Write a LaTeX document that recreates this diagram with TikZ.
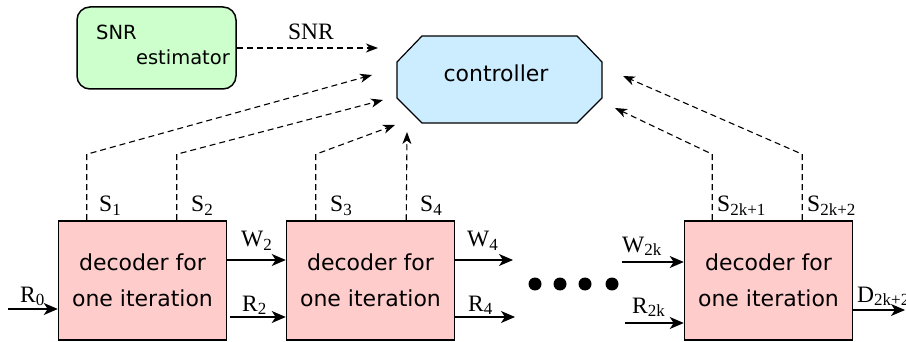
\documentclass[tikz,border=0pt]{standalone}
\usepackage{fontspec}
\setmainfont{Liberation Serif}
\newfontfamily\sansf{DejaVu Sans}
\usetikzlibrary{arrows.meta,calc}
\newcommand\lsub[1]{\raisebox{-3.5pt}{\fontsize{17}{17}\selectfont #1}}
\definecolor{gfill}{RGB}{204,255,204}
\definecolor{bfill}{RGB}{204,236,255}
\definecolor{pfill}{RGB}{255,204,204}
\begin{document}
\begin{tikzpicture}[x=1pt,y=-1pt,
  dec/.style={draw, line width=1.5pt, fill=pfill, minimum width=168pt, minimum height=119pt,
    inner sep=0pt, align=center, font=\sansf\fontsize{22}{36}\selectfont},
  lbl/.style={inner sep=0pt, anchor=base west, font=\fontsize{23.5}{24}\selectfont},
  stxt/.style={inner sep=0pt, font=\sansf\fontsize{22}{26}\selectfont},
  gtxt/.style={inner sep=0pt, font=\sansf\fontsize{19.5}{22}\selectfont},
  sig/.style={line width=1.3pt, -{Stealth[length=14pt,width=12pt,inset=4pt]}},
  ctl/.style={line width=1.1pt, dash pattern=on 6pt off 4pt, -{Stealth[length=12pt,width=9pt,inset=3.5pt]}}]
\useasboundingbox (0,0) rectangle (906,342);

% decoder boxes
\node[dec] (d1) at (142.5,280.5) {decoder for\\one iteration};
\node[dec] (d2) at (370.5,280.5) {decoder for\\one iteration};
\node[dec] (d3) at (768.5,280.5) {decoder for\\one iteration};

% SNR estimator
\node[draw, rounded corners=13pt, fill=gfill, line width=1.5pt, minimum width=159pt, minimum height=82pt] (est) at (156.5,48) {};
\node[gtxt, anchor=base west] (estA) at (96,40) {SNR};
\node[gtxt, anchor=base east] (estB) at (230,65) {estimator};

% controller
\draw[fill=bfill, line width=1.2pt] (422,36) -- (577,36) -- (602,62) -- (602,98) -- (577,123) -- (422,123) -- (397,98) -- (397,62) -- cycle;
\node[stxt, anchor=base] (ctrl) at (496,82) {controller};

% arrow end coordinates near controller
\coordinate (csnr) at (378,48);
\coordinate (c1) at (372,75);
\coordinate (c2) at (383,100);
\coordinate (c3) at (395,125);
\coordinate (c4) at (407,132);
\coordinate (c5) at (615,108);
\coordinate (c6) at (623,76);

% dashed control lines
\draw[ctl] (est.east) -- (csnr);
\node[lbl, anchor=base] (lsnr) at (311,40) {SNR};
\draw[ctl] ($(d1.north west)+(29,0)$) -- +(0,-66) -- (c1);
\draw[ctl] ($(d1.north west)+(119,0)$) -- +(0,-66) -- (c2);
\draw[ctl] ($(d2.north west)+(30,0)$) -- +(0,-66) -- (c3);
\draw[ctl] ($(d2.north west)+(120.5,0)$) -- (c4);
\draw[ctl] ($(d3.north west)+(28.5,0)$) -- +(0,-66) -- (c5);
\draw[ctl] ($(d3.north west)+(118.5,0)$) -- +(0,-66) -- (c6);

\node[lbl] (ls1) at (99,212) {S\lsub{1}};
\node[lbl] (ls2) at (191,212) {S\lsub{2}};
\node[lbl] (ls3) at (330,212) {S\lsub{3}};
\node[lbl] (ls4) at (420,212) {S\lsub{4}};
\node[lbl] (ls5) at (717,212) {S\lsub{2k+1}};
\node[lbl] (ls6) at (807,212) {S\lsub{2k+2}};

% signal arrows
\coordinate (r0s) at (8,309);
\draw[sig] (r0s) -- (r0s -| d1.west);
\node[lbl] (lr0) at (20,302) {R\lsub{0}};

\draw[sig] ($(d1.east)+(0,-20.5)$) -- ($(d2.west)+(0,-20.5)$);
\node[lbl] (lw2) at (241,247) {W\lsub{2}};
\draw[sig] ($(d1.east)+(3,36.5)$) -- ($(d2.west)+(0,36.5)$);
\node[lbl] (lr2) at (242,311) {R\lsub{2}};

\coordinate (w4e) at (513,260);
\coordinate (r4e) at (515,317);
\draw[sig] (w4e -| d2.east) -- (w4e);
\node[lbl] (lw4) at (467,247) {W\lsub{4}};
\draw[sig] (r4e -| d2.east) -- (r4e);
\node[lbl] (lr4) at (468,311) {R\lsub{4}};

% dots
\fill (535,284) circle (6.5);
\fill (560,284) circle (6.5);
\fill (585,284) circle (6.5);
\fill (612,284) circle (6.5);

\coordinate (w2ks) at (622,262);
\coordinate (r2ks) at (625,323);
\draw[sig] (w2ks) -- (w2ks -| d3.west);
\node[lbl] (lw2k) at (622,252) {W\lsub{2k}};
\draw[sig] (r2ks) -- (r2ks -| d3.west);
\node[lbl] (lr2k) at (632,313) {R\lsub{2k}};

\coordinate (de) at (905,310);
\draw[sig] (de -| d3.east) -- (de);
\node[lbl] (ld) at (857,302) {D\lsub{2k+2}};
\end{tikzpicture}
\end{document}
